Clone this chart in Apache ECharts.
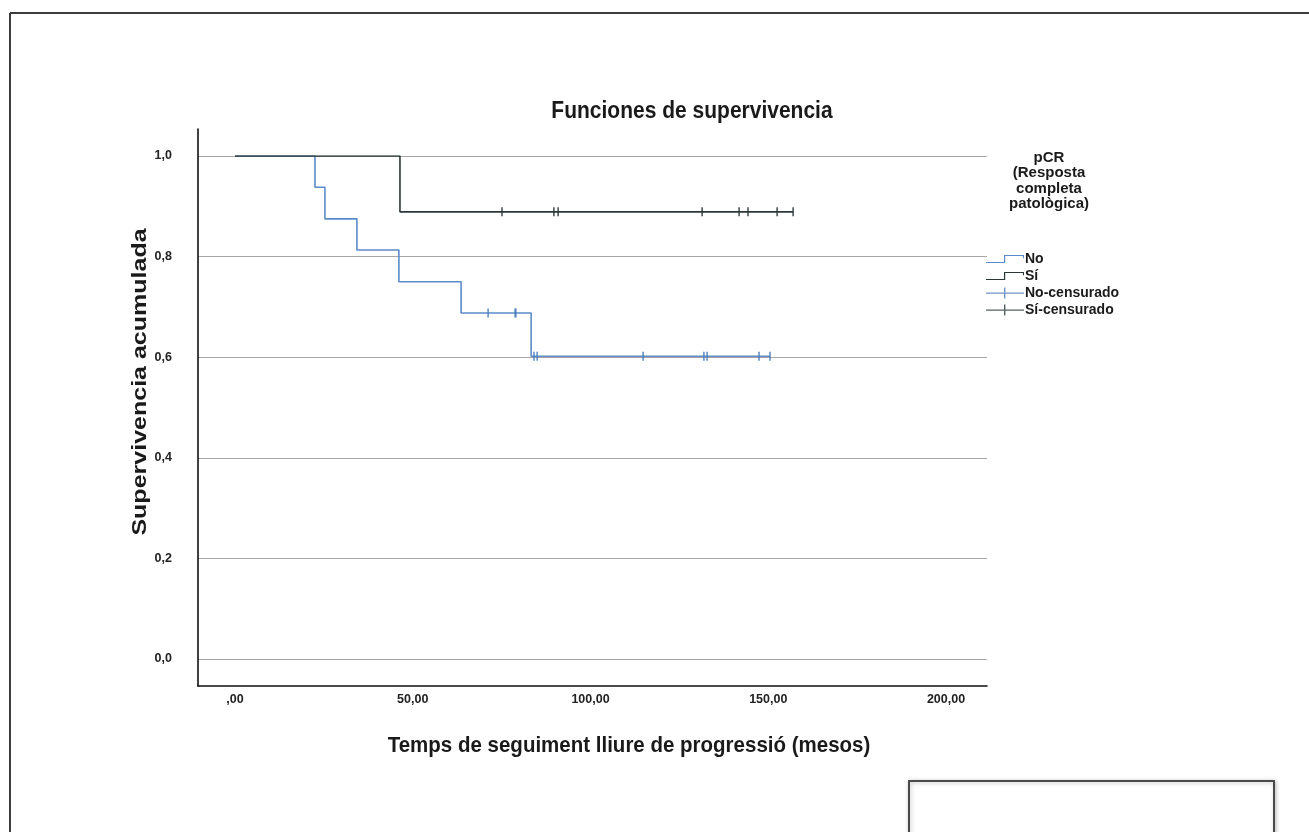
<!DOCTYPE html>
<html>
<head>
<meta charset="utf-8">
<script src="https://cdn.jsdelivr.net/npm/echarts@6/dist/echarts.min.js"></script>
<style>
  html, body { margin: 0; padding: 0; background: #ffffff; }
  #chart { width: 1309px; height: 832px; }
</style>
</head>
<body>
<div id="chart"></div>
<script>
// ---- data ----
const xTickValues = [0, 50, 100, 150, 200];
const xTickLabels = [',00', '50,00', '100,00', '150,00', '200,00'];
const yTickValues = [0, 0.2, 0.4, 0.6, 0.8, 1.0];
const yTickLabels = ['0,0', '0,2', '0,4', '0,6', '0,8', '1,0'];

const seriesNames = ['No', 'Sí', 'No-censurado', 'Sí-censurado'];

// Kaplan-Meier step curves (time in months, cumulative survival)
const noTimes = [0, 22.5, 25.3, 34.3, 46.1, 63.6, 83.3, 150.5];
const noSurv  = [1.0, 0.938, 0.875, 0.813, 0.75, 0.688, 0.602, 0.602];
const siTimes = [0, 46.4, 157.0];
const siSurv  = [1.0, 0.889, 0.889];

// censored observations
const noCensTimes = [71.2, 78.8, 79.0, 84.1, 85.0, 114.8, 131.9, 132.8, 147.4, 150.5];
const noCensSurv  = [0.688, 0.688, 0.688, 0.602, 0.602, 0.602, 0.602, 0.602, 0.602, 0.602];
const siCensTimes = [75.1, 89.7, 90.9, 131.4, 141.8, 144.3, 152.5, 157.0];
const siCensSurv  = [0.889, 0.889, 0.889, 0.889, 0.889, 0.889, 0.889, 0.889];

// ---- styling ----
const BLUE = '#5b8bc9';
const BLUE_C = '#4a7cbd';
const DARK = '#2b3838';
const FONT = '"Liberation Sans", Arial, sans-serif';

const pairs = (xs, ys) => xs.map((x, i) => [x, ys[i]]);

const stepIcon = 'path://M0 7 H19 V8 H0 Z M18 0 H19.2 V8 H18 Z M18 0 H38 V1.1 H18 Z M36.9 0 H38 V3.2 H36.9 Z';
const censIcon = 'path://M0 5 H38 V6.2 H0 Z M18 0 H19.4 V11 H18 Z';

const chart = echarts.init(document.getElementById('chart'), null, { renderer: 'canvas' });

chart.setOption({
  animation: false,
  backgroundColor: '#ffffff',
  textStyle: { fontFamily: FONT },
  title: [
    {
      text: 'pCR\n(Resposta\ncompleta\npatològica)',
      left: 1044, top: 145, textAlign: 'center',
      textStyle: { fontFamily: FONT, fontSize: 15, fontWeight: 'bold', color: '#1a1a1a', lineHeight: 15.5 }
    }
  ],
  legend: {
    orient: 'vertical',
    left: 981, top: 247,
    itemWidth: 38, itemHeight: 12, itemGap: 3,
    symbolKeepAspect: true,
    selectedMode: false,
    itemStyle: { borderWidth: 0 },
    textStyle: { fontFamily: FONT, fontSize: 14, fontWeight: 'bold', color: '#1a1a1a', lineHeight: 14, padding: [0, 0, 0, -4] },
    data: [
      { name: seriesNames[0], icon: stepIcon },
      { name: seriesNames[1], icon: stepIcon },
      { name: seriesNames[2], icon: censIcon },
      { name: seriesNames[3], icon: censIcon }
    ]
  },
  grid: [
    // 0: frame axes
    { left: 198, right: 322, top: 129, bottom: 146, containLabel: false },
    // 1: horizontal gridlines + y labels (0..1)
    { left: 198, right: 322, top: 156, bottom: 173, containLabel: false },
    // 2: data (x 0..200, y 0..1) + x labels
    { left: 235, right: 363, top: 156, bottom: 173, containLabel: false }
  ],
  xAxis: [
    {
      gridIndex: 0, type: 'value', min: 0, max: 1,
      axisLine: { show: true, onZero: false, lineStyle: { color: '#111', width: 1.6 } },
      axisTick: { show: false }, axisLabel: { show: false }, splitLine: { show: false }
    },
    {
      gridIndex: 1, type: 'value', min: 0, max: 1, show: false
    },
    {
      gridIndex: 2, type: 'value', min: 0, max: 200, interval: 50,
      axisLine: { show: false }, axisTick: { show: false }, splitLine: { show: false },
      axisLabel: {
        show: true, margin: 34,
        fontFamily: FONT, fontSize: 12.5, fontWeight: 'bold', color: '#222',
        formatter: v => xTickLabels[xTickValues.indexOf(v)]
      }
    }
  ],
  yAxis: [
    {
      gridIndex: 0, type: 'value', min: 0, max: 1,
      axisLine: { show: true, onZero: false, lineStyle: { color: '#111', width: 1.6 } },
      axisTick: { show: false }, axisLabel: { show: false }, splitLine: { show: false }
    },
    {
      gridIndex: 1, type: 'value', min: 0, max: 1, interval: 0.2,
      axisLine: { show: false }, axisTick: { show: false },
      splitLine: { show: true, lineStyle: { color: '#a9a6a3', width: 1.2 } },
      axisLabel: {
        show: true, margin: 26,
        fontFamily: FONT, fontSize: 12.5, fontWeight: 'bold', color: '#222',
        formatter: v => yTickLabels[yTickValues.findIndex(t => Math.abs(t - v) < 1e-6)]
      }
    },
    {
      gridIndex: 2, type: 'value', min: 0, max: 1, show: false
    }
  ],
  series: [
    {
      name: seriesNames[0], type: 'line', xAxisIndex: 2, yAxisIndex: 2,
      step: 'end', symbol: 'none', color: BLUE,
      lineStyle: { color: BLUE, width: 1.6 },
      data: pairs(noTimes, noSurv), z: 3
    },
    {
      name: seriesNames[1], type: 'line', xAxisIndex: 2, yAxisIndex: 2,
      step: 'end', symbol: 'none', color: DARK,
      lineStyle: { color: DARK, width: 1.6 },
      data: pairs(siTimes, siSurv), z: 3
    },
    {
      name: seriesNames[2], type: 'scatter', xAxisIndex: 2, yAxisIndex: 2,
      symbol: 'rect', symbolSize: [1.7, 9], color: BLUE_C,
      itemStyle: { color: BLUE_C },
      data: pairs(noCensTimes, noCensSurv), z: 4
    },
    {
      name: seriesNames[3], type: 'scatter', xAxisIndex: 2, yAxisIndex: 2,
      symbol: 'rect', symbolSize: [1.7, 9], color: DARK,
      itemStyle: { color: DARK },
      data: pairs(siCensTimes, siCensSurv), z: 4
    }
  ],
  graphic: [
    // outer page frame (top and left edges)
    { type: 'line', shape: { x1: 10, y1: 13, x2: 1309, y2: 13 }, style: { stroke: '#3c3c3c', lineWidth: 2 }, z: 0 },
    { type: 'line', shape: { x1: 10, y1: 13, x2: 10, y2: 832 }, style: { stroke: '#3c3c3c', lineWidth: 2 }, z: 0 },
    // small empty box bottom right
    {
      type: 'rect', shape: { x: 909, y: 781, width: 365, height: 70 },
      style: { fill: '#ffffff', stroke: '#4a4a4a', lineWidth: 2, shadowBlur: 4, shadowColor: 'rgba(0,0,0,0.25)', shadowOffsetX: 1, shadowOffsetY: 1 },
      z: 0
    },
    // chart title
    {
      type: 'text', x: 692, y: 112, scaleY: 1.1,
      style: { text: 'Funciones de supervivencia', font: 'bold 21px ' + FONT, fill: '#1a1a1a', align: 'center', verticalAlign: 'middle' }
    },
    // axis titles
    {
      type: 'text', x: 629, y: 746, scaleY: 1.1,
      style: { text: 'Temps de seguiment lliure de progressió (mesos)', font: 'bold 20.5px ' + FONT, fill: '#1a1a1a', align: 'center', verticalAlign: 'middle' }
    },
    {
      type: 'text', x: 140, y: 382, rotation: Math.PI / 2, scaleX: 1.22,
      style: { text: 'Supervivencia acumulada', font: 'bold 20.5px ' + FONT, fill: '#1a1a1a', align: 'center', verticalAlign: 'middle' }
    }
  ]
});
</script>
</body>
</html>
